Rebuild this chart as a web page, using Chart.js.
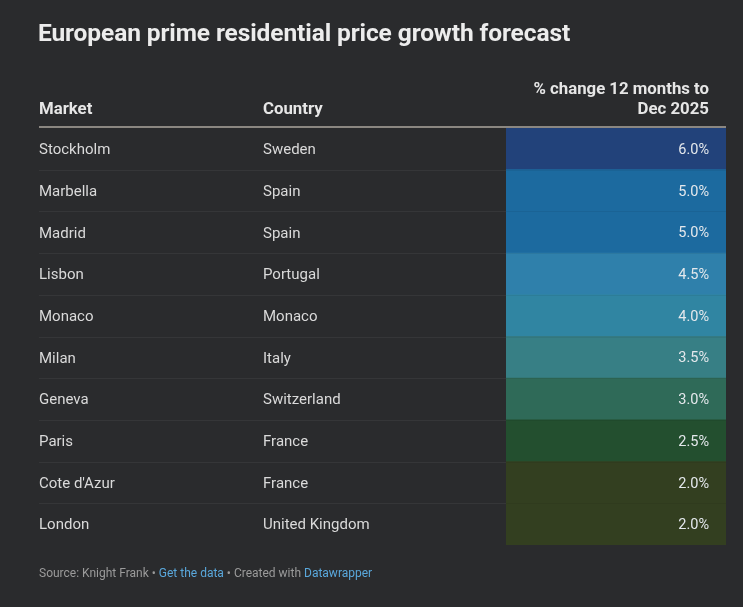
<!DOCTYPE html>
<html>
<head>
<meta charset="utf-8">
<script src="https://cdn.jsdelivr.net/npm/chart.js@4"></script>
<style>
  html, body { margin: 0; padding: 0; background: #2a2b2d; }
  body { width: 743px; height: 607px; position: relative; overflow: hidden; font-family: Roboto, "Noto Sans", sans-serif; }
  #title { position: absolute; left: 38px; top: 18px; font-size: 24.5px; font-weight: 700; color: #ececec; letter-spacing: -0.1px; white-space: nowrap; }
  #foot { position: absolute; left: 39px; top: 566px; font-size: 12px; color: #9b9b9b; white-space: nowrap; }
  #foot a { color: #5aa8dc; text-decoration: none; }
  #wrap { position: absolute; left: 0; top: 0; width: 743px; height: 607px; }
</style>
</head>
<body>
<div id="wrap"><canvas id="tbl"></canvas></div>
<div id="title">European prime residential price growth forecast</div>
<div id="foot">Source: Knight Frank • <a>Get the data</a> • Created with <a>Datawrapper</a></div>
<script>
var markets = ['Stockholm', 'Marbella', 'Madrid', 'Lisbon', 'Monaco', 'Milan', 'Geneva', 'Paris', "Cote d'Azur", 'London'];
var countries = ['Sweden', 'Spain', 'Spain', 'Portugal', 'Monaco', 'Italy', 'Switzerland', 'France', 'France', 'United Kingdom'];
var change = [6.0, 5.0, 5.0, 4.5, 4.0, 3.5, 3.0, 2.5, 2.0, 2.0];
var headers = ['Market', 'Country', '% change 12 months to', 'Dec 2025'];

// colour scale for the value column
function cellColor(v) {
  if (v >= 6) return '#22427a';
  if (v >= 5) return '#1c6a9f';
  if (v >= 4.5) return '#2f80ab';
  if (v >= 4) return '#3085a2';
  if (v >= 3.5) return '#377f85';
  if (v >= 3) return '#2f6a58';
  if (v >= 2.5) return '#234f2f';
  return '#333f20';
}

var tableText = {
  id: 'tableText',
  afterDatasetsDraw: function(chart) {
    var ctx = chart.ctx;
    var area = chart.chartArea;
    var bars = chart.getDatasetMeta(0).data;
    var left = 39, col2 = 263;
    ctx.save();
    // header
    ctx.fillStyle = '#e6e6e6';
    ctx.font = '700 16.8px Roboto';
    ctx.textBaseline = 'alphabetic';
    ctx.textAlign = 'left';
    ctx.fillText(headers[0], left, 114);
    ctx.fillText(headers[1], col2, 114);
    ctx.textAlign = 'right';
    ctx.fillText(headers[2], area.right - 17, 94);
    ctx.fillText(headers[3], area.right - 17, 114);
    ctx.strokeStyle = '#8b8781';
    ctx.lineWidth = 2;
    ctx.beginPath();
    ctx.moveTo(left, area.top - 1);
    ctx.lineTo(area.right, area.top - 1);
    ctx.stroke();
    // rows
    ctx.font = '15px Roboto';
    ctx.textBaseline = 'middle';
    for (var i = 0; i < bars.length; i++) {
      var b = bars[i];
      var half = b.height / 2;
      if (i > 0) {
        ctx.strokeStyle = '#353638';
        ctx.lineWidth = 1;
        ctx.beginPath();
        ctx.moveTo(left, Math.round(b.y - half) + 0.5);
        ctx.lineTo(area.left, Math.round(b.y - half) + 0.5);
        ctx.stroke();
        ctx.strokeStyle = 'rgba(0,0,0,0.06)';
        ctx.beginPath();
        ctx.moveTo(area.left, Math.round(b.y - half) + 0.5);
        ctx.lineTo(area.right, Math.round(b.y - half) + 0.5);
        ctx.stroke();
      }
      ctx.fillStyle = '#dadada';
      ctx.textAlign = 'left';
      ctx.fillText(markets[i], left, b.y + 1.5);
      ctx.fillText(countries[i], col2, b.y + 1.5);
      ctx.fillStyle = '#e4e8ec';
      ctx.font = '14.5px Roboto';
      ctx.textAlign = 'right';
      ctx.fillText(change[i].toFixed(1) + '%', area.right - 17, b.y + 1.5);
      ctx.font = '15px Roboto';
    }
    ctx.restore();
  }
};

new Chart(document.getElementById('tbl'), {
  type: 'bar',
  data: {
    labels: markets,
    datasets: [{
      data: change.map(function() { return [0, 1]; }),
      backgroundColor: change.map(cellColor),
      borderWidth: 0,
      barPercentage: 1,
      categoryPercentage: 1
    }]
  },
  options: {
    indexAxis: 'y',
    responsive: true,
    maintainAspectRatio: false,
    animation: false,
    layout: { padding: { left: 506, right: 17, top: 128, bottom: 62 } },
    plugins: { legend: { display: false }, tooltip: { enabled: false } },
    scales: {
      x: { display: false, min: 0, max: 1 },
      y: { display: false }
    }
  },
  plugins: [tableText]
});
</script>
</body>
</html>
